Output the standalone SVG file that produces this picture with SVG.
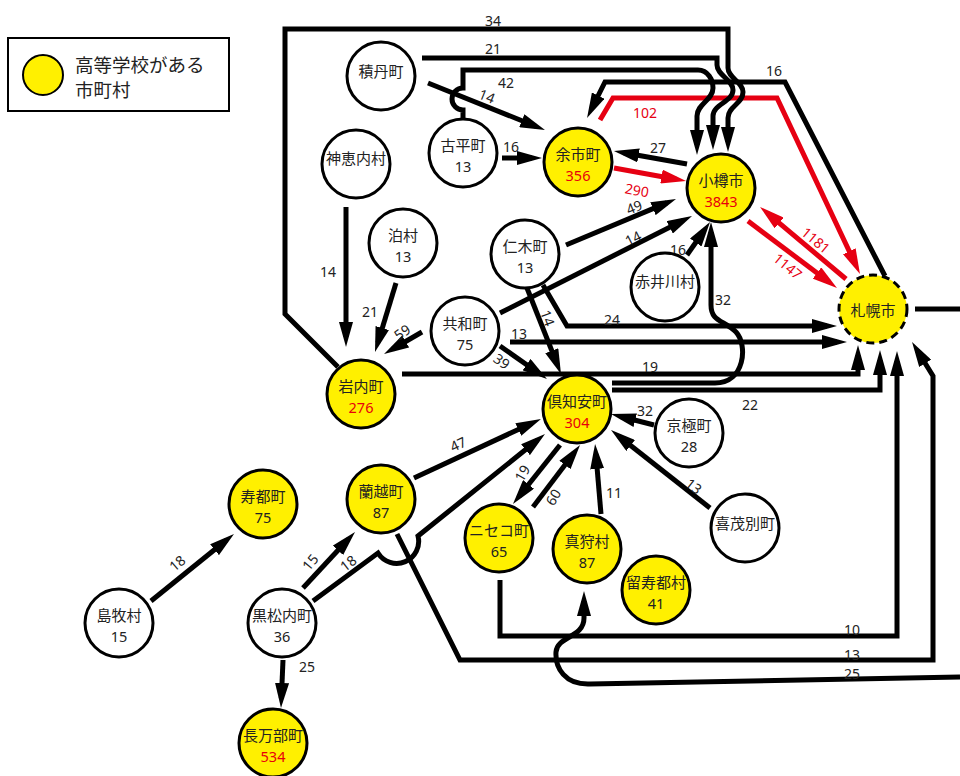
<svg xmlns="http://www.w3.org/2000/svg" width="960" height="776" viewBox="0 0 960 776">
<defs>
<style>
.n{stroke:#000;stroke-width:3;fill:#fff}
.y{fill:#fff000}
.t{font-family:"Noto Sans CJK JP","Noto Sans",sans-serif;font-size:15px;text-anchor:middle;dominant-baseline:central;fill:#222}
.v{font-family:"Noto Sans","Noto Sans CJK JP",sans-serif;font-size:14.5px;text-anchor:middle;dominant-baseline:central;fill:#222}
.rv{fill:#e8000b}
.e{fill:none;stroke:#000;stroke-width:5;marker-end:url(#a)}
.p{fill:none;stroke:#000;stroke-width:5}
.r{fill:none;stroke:#e60012;stroke-width:5;marker-end:url(#ar)}
.l{font-family:"Noto Sans","Noto Sans CJK JP",sans-serif;font-size:14px;text-anchor:middle;dominant-baseline:central;fill:#222}
.lr{fill:#e60012}
</style>
<marker id="a" markerUnits="userSpaceOnUse" markerWidth="25" markerHeight="14" viewBox="0 0 25 14" refX="15" refY="7" orient="auto"><path d="M0,0L25,7L0,14z" fill="#000"/></marker>
<marker id="ar" markerUnits="userSpaceOnUse" markerWidth="25" markerHeight="14" viewBox="0 0 25 14" refX="15" refY="7" orient="auto"><path d="M0,0L25,7L0,14z" fill="#e60012"/></marker>
</defs>
<rect width="960" height="776" fill="#fff"/>
<g id="legend">
<rect x="8" y="38" width="221" height="73" fill="#fff" stroke="#000" stroke-width="2"/>
<circle cx="43" cy="75" r="20" fill="#fff000" stroke="#000" stroke-width="2"/>
<text x="75" y="64" font-family="Noto Sans CJK JP,sans-serif" font-size="18.5" dominant-baseline="central" fill="#222">高等学校がある</text>
<text x="75" y="89" font-family="Noto Sans CJK JP,sans-serif" font-size="18.5" dominant-baseline="central" fill="#222">市町村</text>
</g>
<g id="connectors">
<path class="e" d="M428,83L535.7,126.3"/>
<path class="e" d="M502,158L532,158"/>
<path class="e" d="M687,164L623.8,152.8"/>
<path class="r" d="M614,168L676.2,179.2"/>
<path class="e" d="M566,245L666.8,202.9"/>
<path class="e" d="M500,313L683.1,220.5"/>
<path class="e" d="M687,255L704.3,230.2"/>
<path class="r" d="M846,279L767.7,213.4"/>
<path class="r" d="M748,221L829,282"/>
<path class="e" d="M527,288L557.3,364.7"/>
<path class="e" d="M500,346L538.8,373.3"/>
<path class="e" d="M422,332L392.7,349"/>
<path class="e" d="M396,283L377.9,342.4"/>
<path class="e" d="M346,207L346,337"/>
<path class="e" d="M303,588L348.2,539.3"/>
<path class="e" d="M414,478L531.9,423.2"/>
<path class="e" d="M560,445L519.2,496.2"/>
<path class="e" d="M533,507L574,453"/>
<path class="e" d="M601,514L595.9,454"/>
<path class="e" d="M654,425L620.7,416.5"/>
<path class="e" d="M710,508L618.9,436.2"/>
<path class="e" d="M151,601L226.2,540.3"/>
<path class="e" d="M283,660L281.4,698"/>
<path class="e" d="M885,276L785,82L605,82L591.5,109"/>
<path class="r" d="M600,120L613,98L777,98L855.7,264.9"/>
<path class="e" d="M543,285L567,326L827,326"/>
<path class="e" d="M510,342L837,342"/>
<path class="e" d="M402,374L858,374L858,355"/>
<path class="e" d="M612,390L880,390L880,360"/>
<path class="e" d="M500,580L500,636L897,636L897,361"/>
<path class="e" d="M397,534L460,660L933,660L933,376L917.3,350.5"/>
<path class="e" d="M612,383L715,383C745,383 748,345 736,332C724,320 711,322 711,305L711,232"/>
<path class="e" d="M338,367L285,314L285,29L728,29L728,68C728,78 743,82 743,92C743,104 728,106 728,118L728,142"/>
<path class="e" d="M422,58L717,58L717,65C717,75 733,80 733,90C733,102 713,104 713,116L713,140"/>
<path class="e" d="M463,118L463,110A11,11 0 0 1 463,88L463,70L698,70C708,70 713,80 713,88C713,100 697,104 697,116L697,145"/>
<path class="e" d="M313,601L378,553A22,22 0 0 0 418,536L537.2,440.3"/>
<path class="e" d="M960,677L590,684C565,685 555,668 556,652C557,636 584,638 584,618L584,601"/>
<path class="p" d="M915,309L960,309"/>
</g>
<g id="edge-labels">
<text class="l" x="493" y="20">34</text>
<text class="l" x="493" y="48">21</text>
<text class="l" x="506" y="82">42</text>
<text class="l" transform="translate(487,96) rotate(22)">14</text>
<text class="l" x="511" y="146">16</text>
<text class="l lr" x="645" y="112">102</text>
<text class="l" x="774" y="70">16</text>
<text class="l" x="658" y="147">27</text>
<text class="l lr" transform="translate(637,190) rotate(10)">290</text>
<text class="l" transform="translate(634,207) rotate(-22)">49</text>
<text class="l" transform="translate(633,238) rotate(-27)">14</text>
<text class="l" x="678" y="249">16</text>
<text class="l lr" transform="translate(816,240) rotate(40)">1181</text>
<text class="l lr" transform="translate(788,266) rotate(40)">1147</text>
<text class="l" x="723" y="299">32</text>
<text class="l" x="612" y="319">24</text>
<text class="l" transform="translate(548,318) rotate(70)">14</text>
<text class="l" x="519" y="333">13</text>
<text class="l" transform="translate(502,361) rotate(35)">39</text>
<text class="l" transform="translate(402,332) rotate(-35)">59</text>
<text class="l" x="650" y="366">19</text>
<text class="l" x="750" y="404">22</text>
<text class="l" x="370" y="311">21</text>
<text class="l" x="328" y="271">14</text>
<text class="l" transform="translate(458,444) rotate(-25)">47</text>
<text class="l" transform="translate(522,473) rotate(-60)">19</text>
<text class="l" transform="translate(553,497) rotate(-60)">60</text>
<text class="l" x="614" y="492">11</text>
<text class="l" x="645" y="410">32</text>
<text class="l" transform="translate(694,486) rotate(38)">13</text>
<text class="l" transform="translate(177,563) rotate(-40)">18</text>
<text class="l" transform="translate(310,562) rotate(-50)">15</text>
<text class="l" transform="translate(348,563) rotate(-38)">18</text>
<text class="l" x="307" y="666">25</text>
<text class="l" x="852" y="629">10</text>
<text class="l" x="852" y="654">13</text>
<text class="l" x="852" y="673">25</text>
</g>
<g id="n-shakotan"><circle class="n" cx="381" cy="76" r="34"/><text class="t" x="381" y="70">積丹町</text></g>
<g id="n-kamoenai"><circle class="n" cx="356" cy="164" r="34"/><text class="t" x="356" y="157">神恵内村</text></g>
<g id="n-furubira"><circle class="n" cx="463" cy="153" r="34"/><text class="t" x="463" y="144">古平町</text><text class="v" x="463" y="166">13</text></g>
<g id="n-yoichi"><circle class="n y" cx="578" cy="162" r="34"/><text class="t" x="578" y="153">余市町</text><text class="v rv" x="578" y="175">356</text></g>
<g id="n-otaru"><circle class="n y" cx="721" cy="188" r="34"/><text class="t" x="721" y="179">小樽市</text><text class="v rv" x="721" y="201">3843</text></g>
<g id="n-sapporo"><circle cx="873" cy="309" r="34" fill="#fff000" stroke="#000" stroke-width="3" stroke-dasharray="8 5"/><text class="t" x="873" y="309">札幌市</text></g>
<g id="n-tomari"><circle class="n" cx="403" cy="243" r="34"/><text class="t" x="403" y="234">泊村</text><text class="v" x="403" y="256">13</text></g>
<g id="n-niki"><circle class="n" cx="525" cy="254" r="34"/><text class="t" x="525" y="245">仁木町</text><text class="v" x="525" y="267">13</text></g>
<g id="n-kyowa"><circle class="n" cx="465" cy="331" r="34"/><text class="t" x="465" y="322">共和町</text><text class="v" x="465" y="344">75</text></g>
<g id="n-iwanai"><circle class="n y" cx="361" cy="394" r="34"/><text class="t" x="361" y="385">岩内町</text><text class="v rv" x="361" y="407">276</text></g>
<g id="n-kutchan"><circle class="n y" cx="577" cy="409" r="34"/><text class="t" x="577" y="400">倶知安町</text><text class="v rv" x="577" y="422">304</text></g>
<g id="n-akaigawa"><circle class="n" cx="665" cy="287" r="34"/><text class="t" x="665" y="280">赤井川村</text></g>
<g id="n-kyogoku"><circle class="n" cx="689" cy="433" r="34"/><text class="t" x="689" y="424">京極町</text><text class="v" x="689" y="446">28</text></g>
<g id="n-kimobetsu"><circle class="n" cx="745" cy="528" r="34"/><text class="t" x="745" y="522">喜茂別町</text></g>
<g id="n-rusutsu"><circle class="n y" cx="656" cy="590" r="34"/><text class="t" x="656" y="581">留寿都村</text><text class="v" x="656" y="603">41</text></g>
<g id="n-makkari"><circle class="n y" cx="587" cy="549" r="34"/><text class="t" x="587" y="540">真狩村</text><text class="v" x="587" y="562">87</text></g>
<g id="n-niseko"><circle class="n y" cx="499" cy="538" r="34"/><text class="t" x="499" y="529">ニセコ町</text><text class="v" x="499" y="551">65</text></g>
<g id="n-rankoshi"><circle class="n y" cx="381" cy="499" r="34"/><text class="t" x="381" y="490">蘭越町</text><text class="v" x="381" y="512">87</text></g>
<g id="n-suttsu"><circle class="n y" cx="263" cy="504" r="34"/><text class="t" x="263" y="495">寿都町</text><text class="v" x="263" y="517">75</text></g>
<g id="n-shimamaki"><circle class="n" cx="119" cy="623" r="34"/><text class="t" x="119" y="614">島牧村</text><text class="v" x="119" y="636">15</text></g>
<g id="n-kuromatsunai"><circle class="n" cx="282" cy="623" r="34"/><text class="t" x="282" y="614">黒松内町</text><text class="v" x="282" y="636">36</text></g>
<g id="n-oshamambe"><circle class="n y" cx="273" cy="743" r="34"/><text class="t" x="273" y="734">長万部町</text><text class="v rv" x="273" y="756">534</text></g>
</svg>
